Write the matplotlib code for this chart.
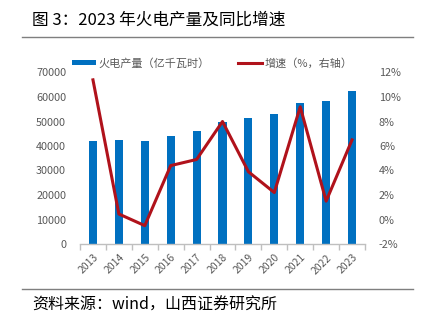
import matplotlib
matplotlib.use("Agg")
import matplotlib.pyplot as plt
from matplotlib.lines import Line2D
from matplotlib.patches import Patch
import numpy as np

plt.rcParams['font.family'] = ['Noto Sans CJK SC', 'DejaVu Sans']

years = ["2013", "2014", "2015", "2016", "2017", "2018", "2019", "2020", "2021", "2022", "2023"]
output = [42100, 42300, 42100, 44000, 46000, 49800, 51600, 53000, 57700, 58500, 62300]
growth = [11.4, 0.45, -0.5, 4.4, 4.9, 8.0, 3.9, 2.2, 9.2, 1.5, 6.5]
left_ticks = [0, 10000, 20000, 30000, 40000, 50000, 60000, 70000]
right_ticks = [-2, 0, 2, 4, 6, 8, 10, 12]

fig = plt.figure(figsize=(4.25, 3.23), dpi=100)
ax = fig.add_axes([80/425, 1-244/323, 285/425, (244-72.5)/323])
x = np.arange(len(years))
bar_color = "#0070C0"
line_color = "#B0121B"
ax.bar(x, output, width=0.31, color=bar_color, zorder=2)
ax.set_xlim(-0.5, len(years)-0.5)
ax.set_ylim(0, 70000)
ax.set_yticks(left_ticks)
ax.set_yticklabels([str(v) for v in left_ticks])
ax.set_xticks(x)
ax.set_xticklabels(years, rotation=45, ha='right', rotation_mode='anchor')
ax.set_xticks(np.arange(-0.5, len(years), 1), minor=True)
ax.tick_params(axis='x', which='major', length=0, pad=6, labelsize=7.5, labelcolor='#595959')
ax.tick_params(axis='x', which='minor', length=4, color='#BFBFBF', width=1)
ax.tick_params(axis='y', length=0, pad=10, labelsize=7.8, labelcolor='#595959')
for s in ['top', 'right', 'left']:
    ax.spines[s].set_visible(False)
ax.spines['bottom'].set_color('#BFBFBF')
ax.spines['bottom'].set_linewidth(1)

ax2 = ax.twinx()
ax2.plot(x, growth, color=line_color, linewidth=2.2, zorder=3)
ax2.set_ylim(-2, 12)
ax2.set_yticks(right_ticks)
ax2.set_yticklabels([f"{v}%" for v in right_ticks])
ax2.tick_params(axis='y', length=0, pad=10, labelsize=7.8, labelcolor='#595959')
for s in ['top', 'right', 'left', 'bottom']:
    ax2.spines[s].set_visible(False)

handles = [Patch(facecolor=bar_color, edgecolor='none'),
           Line2D([0], [0], color=line_color, linewidth=2.2)]
fig.legend(handles, ["火电产量（亿千瓦时）", "增速（%，右轴）"],
           loc='center left', bbox_to_anchor=(72/425, 1-63/323), ncol=2, frameon=False,
           fontsize=8, labelcolor='#595959', handlelength=2.2, handleheight=0.35,
           handletextpad=0.2, columnspacing=2.5, borderaxespad=0, borderpad=0)

fig.text(32/425, 1-20/323, "图 3：2023 年火电产量及同比增速", fontsize=12, va='center', ha='left', color='black')
fig.add_artist(Line2D([22/425, 413/425], [1-37/323, 1-37/323], color='#7F7F7F', linewidth=1))
fig.add_artist(Line2D([22/425, 413/425], [1-289/323, 1-289/323], color='#7F7F7F', linewidth=1))
fig.text(32/425, 1-305/323, "资料来源：wind，山西证券研究所", fontsize=11.5, va='center', ha='left', color='black')

fig.savefig("out.png", dpi=100)
